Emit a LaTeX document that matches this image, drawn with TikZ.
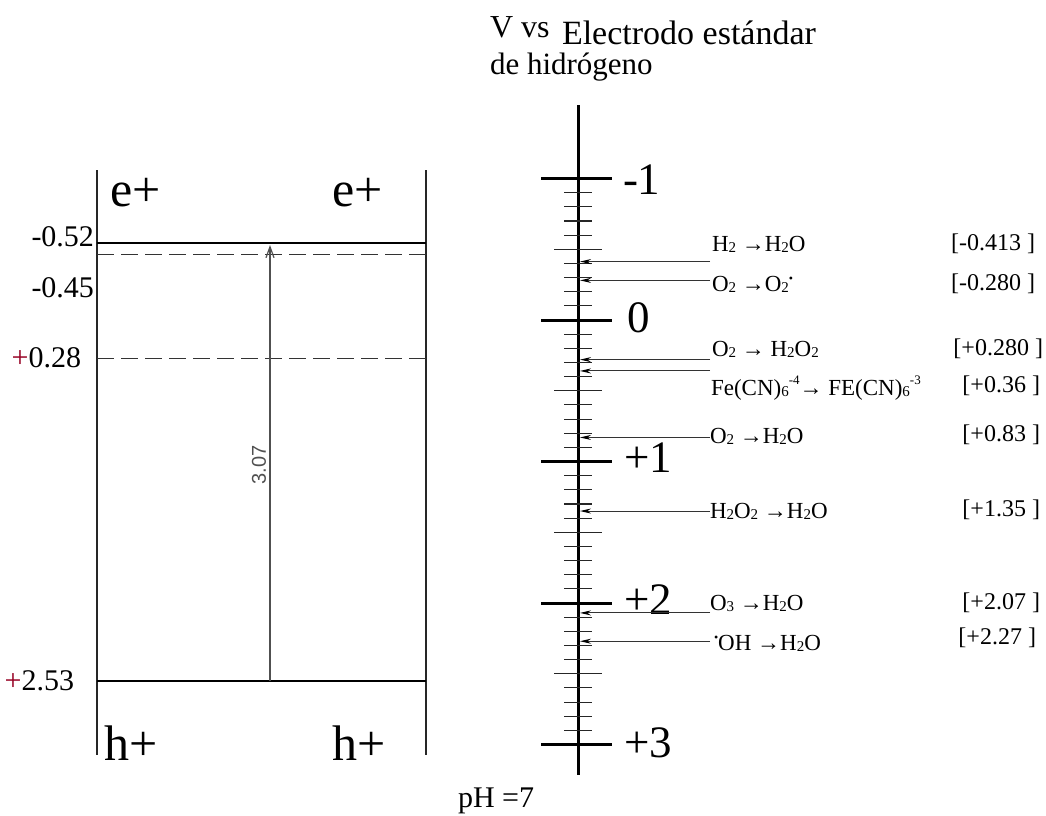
\documentclass[tikz,border=0pt]{standalone}
\usepackage{fontspec}
\setmainfont{Liberation Serif}
\newfontfamily\sansf{Liberation Sans}
\usetikzlibrary{arrows.meta}
\definecolor{plusred}{RGB}{150,0,35}
\definecolor{arrgray}{RGB}{80,80,80}
\newcommand\fsz[1]{\fontsize{#1}{#1}\selectfont}
\newcommand\chs[1]{\raisebox{-0.12ex}{\fsz{15}#1}}
\newcommand\chp[1]{\raisebox{0.95ex}{\fsz{13}#1}}
\newcommand\rad{\raisebox{0.8ex}{\fsz{12}\textbullet}}
\tikzset{
  txt/.style={inner sep=0pt, outer sep=0pt},
  big/.style={txt, font=\fsz{50}},
  lev/.style={txt, font=\fsz{30}, anchor=east},
  axl/.style={txt, font=\fsz{45}, anchor=west},
  rx/.style={txt, font=\fsz{23}, anchor=base west},
  val/.style={txt, font=\fsz{24}, anchor=east},
  boxline/.style={line width=1.3pt, black!85},
  levsolid/.style={line width=2.6pt, black},
  levdash/.style={line width=1pt, black!80, dash pattern=on 17pt off 7pt},
  majtick/.style={line width=3pt, black},
  mintick/.style={line width=1.1pt, black!85},
  rxline/.style={line width=1pt, black!80, -{Stealth[length=11pt,width=5pt,black]}},
}
\begin{document}
\begin{tikzpicture}[x=1pt,y=-1pt]
\useasboundingbox (0,0) rectangle (1046,815);

% ---------- left band diagram ----------
\coordinate (bl) at (97,170);
\coordinate (bl2) at (97,755);
\coordinate (br) at (426,170);
\coordinate (br2) at (426,755);
\draw[boxline] (bl) -- (bl2);
\draw[boxline] (br) -- (br2);

\coordinate (cbL) at (97,243);  \coordinate (cbR) at (426,243);
\coordinate (d1L) at (97,254);  \coordinate (d1R) at (426,254);
\coordinate (d2L) at (97,358);  \coordinate (d2R) at (426,358);
\coordinate (vbL) at (97,681);  \coordinate (vbR) at (426,681);
\draw[levsolid] (cbL) -- (cbR);
\draw[levdash] (d1L) -- (d1R);
\draw[levdash] (d2L) -- (d2R);
\draw[levsolid] (vbL) -- (vbR);

\coordinate (gapB) at (270,681);
\coordinate (gapT) at (270,245);
\draw[line width=1.2pt, arrgray, -{Straight Barb[length=11pt,width=8pt]}] (gapB) -- (gapT);
\node[txt, rotate=90, font=\sansf\fsz{20}, text=arrgray] (gap) at (259,465) {3.07};

\node[big, anchor=west] (e1) at (110,193) {e+};
\node[big, anchor=west] (e2) at (332,193) {e+};
\node[big, anchor=west] (h1) at (104,743) {h+};
\node[big, anchor=west] (h2) at (332,743) {h+};

\node[lev] (l1) at (94,237) {-0.52};
\node[lev] (l2) at (94,288) {-0.45};
\node[lev] (l3) at (81,358) {\textcolor{plusred}{+}0.28};
\node[lev] (l4) at (74,681) {\textcolor{plusred}{+}2.53};

% ---------- title ----------
\node[txt, anchor=base west, font=\fsz{32}] (t1) at (490,37) {V vs};
\node[txt, anchor=base west, font=\fsz{34}] (t2) at (562,44) {Electrodo estándar};
\node[txt, anchor=base west, font=\fsz{31}] (t3) at (490,74) {de hidrógeno};

% ---------- potential axis ----------
\coordinate (axT) at (578,105);
\coordinate (axB) at (578,775);
\draw[line width=3pt] (axT) -- (axB);
\foreach \v in {-1,0,1,2,3}
  \draw[majtick] (541,{320+141.5*\v}) -- (612,{320+141.5*\v});
\foreach \v in {-0.5,0.5,1.5,2.5}
  \draw[mintick] (554,{320+141.5*\v}) -- (602,{320+141.5*\v});
\foreach \b in {-1,0,1,2}
  \foreach \k in {1,2,3,4,6,7,8,9}
    \draw[mintick] (564,{320+141.5*(\b+\k/10)}) -- (592,{320+141.5*(\b+\k/10)});

\node[axl] (am1) at (623,180) {-1};
\node[axl] (a0)  at (627,318) {0};
\node[axl] (a1)  at (624,458) {+1};
\node[axl] (a2)  at (624,600) {+2};
\node[axl] (a3)  at (624,743) {+3};

% ---------- reactions ----------
\node[rx] (r1) at (712,251) {H\chs{2} →H\chs{2}O};
\node[rx] (r2) at (712,291) {O\chs{2} →O\chs{2}\rad};
\node[rx] (r3) at (712,356) {O\chs{2} → H\chs{2}O\chs{2}};
\node[rx] (r4) at (711,395) {Fe(CN)\chs{6}\chp{-4}→ FE(CN)\chs{6}\chp{-3}};
\node[rx] (r5) at (710,443) {O\chs{2} →H\chs{2}O};
\node[rx] (r6) at (710,518) {H\chs{2}O\chs{2} →H\chs{2}O};
\node[rx] (r7) at (710,610) {O\chs{3} →H\chs{2}O};
\node[rx] (r8) at (714,650) {\rad OH →H\chs{2}O};

\foreach \n/\v in {1/-0.413, 2/-0.28, 3/0.28, 4/0.36, 5/0.83, 6/1.35, 7/2.07, 8/2.27} {
  \coordinate (s\n) at (710,{320+141.5*\v});
  \coordinate (e\n) at (580,{320+141.5*\v});
  \draw[rxline] (s\n) -- (e\n);
}

\node[val] (v1) at (1035,244) {[-0.413 ]};
\node[val] (v2) at (1035,284) {[-0.280 ]};
\node[val] (v3) at (1043,349) {[+0.280 ]};
\node[val] (v4) at (1040,386) {[+0.36 ]};
\node[val] (v5) at (1040,435) {[+0.83 ]};
\node[val] (v6) at (1040,510) {[+1.35 ]};
\node[val] (v7) at (1040,603) {[+2.07 ]};
\node[val] (v8) at (1036,638) {[+2.27 ]};

\node[txt, anchor=base west, font=\fsz{30}] (ph) at (458,807) {pH =7};
\end{tikzpicture}
\end{document}
